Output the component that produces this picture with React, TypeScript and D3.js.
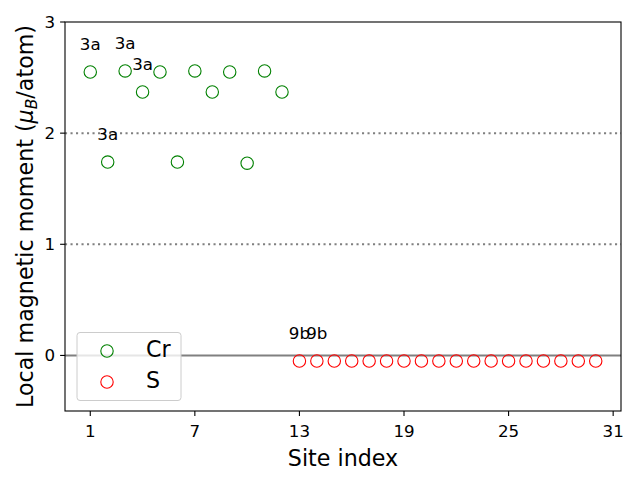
import React from "react";
import * as d3 from "d3";

const crSites = [1, 2, 3, 4, 5, 6, 7, 8, 9, 10, 11, 12];
const crMoments = [2.55, 1.74, 2.56, 2.37, 2.55, 1.74, 2.56, 2.37, 2.55, 1.73, 2.56, 2.37];
const sSites = [13, 14, 15, 16, 17, 18, 19, 20, 21, 22, 23, 24, 25, 26, 27, 28, 29, 30];
const sMoments = [-0.05, -0.05, -0.05, -0.05, -0.05, -0.05, -0.05, -0.05, -0.05, -0.05, -0.05, -0.05, -0.05, -0.05, -0.05, -0.05, -0.05, -0.05];
const annotations = [
  { site: 1, value: 2.55, text: "3a" },
  { site: 2, value: 1.74, text: "3a" },
  { site: 3, value: 2.56, text: "3a" },
  { site: 4, value: 2.37, text: "3a" },
  { site: 13, value: -0.05, text: "9b" },
  { site: 14, value: -0.05, text: "9b" },
];
const xTicks = [1, 7, 13, 19, 25, 31];
const yTicks = [0, 1, 2, 3];
const dottedLevels = [1, 2];

export default function App() {
  const W = 640, H = 480;
  const L = 65, R = 621, T = 22, B = 411;
  const x = d3.scaleLinear().domain([-0.45, 31.45]).range([L, R]);
  const y = d3.scaleLinear().domain([-0.5, 3]).range([B, T]);
  const font = "DejaVu Sans, sans-serif";
  return (
    <svg width={W} height={H} style={{ position: "absolute", left: 0, top: 0 }} fontFamily={font}>
      <rect x={0} y={0} width={W} height={H} fill="white" />
      {dottedLevels.map((v) => (
        <line key={v} x1={L} x2={R} y1={y(v)} y2={y(v)} stroke="#808080" strokeWidth={2} strokeDasharray="2.1,3.4" />
      ))}
      <line x1={L} x2={R} y1={y(0)} y2={y(0)} stroke="#808080" strokeWidth={2} />
      {crSites.map((s, i) => (
        <circle key={"c" + s} cx={x(s)} cy={y(crMoments[i])} r={6.2} fill="none" stroke="green" strokeWidth={1.1} />
      ))}
      {sSites.map((s, i) => (
        <circle key={"s" + s} cx={x(s)} cy={y(sMoments[i])} r={6.2} fill="none" stroke="red" strokeWidth={1.1} />
      ))}
      {annotations.map((a, i) => (
        <text key={i} x={x(a.site)} y={y(a.value) - 22} textAnchor="middle" fontSize={16.7} fill="black">{a.text}</text>
      ))}
      <rect x={L} y={T} width={R - L} height={B - T} fill="none" stroke="black" strokeWidth={1.1} />
      {xTicks.map((t) => (
        <g key={t}>
          <line x1={x(t)} x2={x(t)} y1={B} y2={B + 4.9} stroke="black" strokeWidth={1.1} />
          <text x={x(t)} y={437} textAnchor="middle" fontSize={16.7}>{t}</text>
        </g>
      ))}
      {yTicks.map((t) => (
        <g key={t}>
          <line x1={L - 4.9} x2={L} y1={y(t)} y2={y(t)} stroke="black" strokeWidth={1.1} />
          <text x={L - 9.8} y={y(t) + 6} textAnchor="end" fontSize={16.7}>{t}</text>
        </g>
      ))}
      <text x={(L + R) / 2} y={466} textAnchor="middle" fontSize={22.2}>Site index</text>
      <text transform={`translate(33, ${(T + B) / 2}) rotate(-90)`} textAnchor="middle" fontSize={22.2}>
        Local magnetic moment (<tspan fontStyle="italic">μ</tspan><tspan fontSize={15.5} fontStyle="italic" dy={4}>B</tspan><tspan dy={-4}>/atom)</tspan>
      </text>
      <g>
        <rect x={77} y={332.5} width={104} height={68} rx={3} fill="white" fillOpacity={0.8} stroke="#cccccc" strokeWidth={1} />
        <circle cx={107} cy={351} r={6.2} fill="none" stroke="green" strokeWidth={1.1} />
        <text x={146} y={357} fontSize={22.2}>Cr</text>
        <circle cx={107} cy={382} r={6.2} fill="none" stroke="red" strokeWidth={1.1} />
        <text x={146} y={388} fontSize={22.2}>S</text>
      </g>
    </svg>
  );
}
